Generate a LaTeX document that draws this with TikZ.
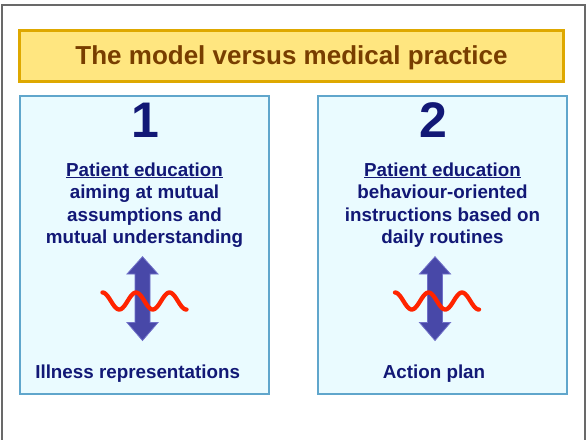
\documentclass[tikz,border=0pt]{standalone}
\usepackage{fontspec}
\setmainfont{Liberation Sans}
\definecolor{navy}{RGB}{18,24,118}
\definecolor{titlebrown}{RGB}{120,62,0}
\definecolor{titlefill}{RGB}{255,230,128}
\definecolor{titleedge}{RGB}{222,168,0}
\definecolor{boxfill}{RGB}{234,251,255}
\definecolor{boxedge}{RGB}{96,166,204}
\definecolor{arrowfill}{RGB}{72,72,168}
\definecolor{arrowedge}{RGB}{112,112,200}
\definecolor{wavered}{RGB}{255,36,0}
\definecolor{framegray}{RGB}{105,105,105}
\tikzset{
  panel/.style={draw=boxedge, fill=boxfill, line width=1.5pt, minimum width=249pt, minimum height=298pt, inner sep=0pt},
  titlebox/.style={draw=titleedge, fill=titlefill, line width=2.2pt, minimum width=544pt, minimum height=51pt, inner sep=0pt},
  titletext/.style={text=titlebrown, font=\fontsize{26}{30}\selectfont\bfseries, anchor=base, inner sep=0pt},
  bignum/.style={text=navy, font=\fontsize{50}{56}\selectfont\bfseries, anchor=base, inner sep=0pt},
  bodytext/.style={text=navy, font=\fontsize{18.8}{22.5}\selectfont\bfseries, anchor=base, align=center, inner sep=0pt},
  dblarrow/.style={fill=arrowfill, draw=arrowedge, line width=0.8pt, line join=miter},
  wave/.style={draw=wavered, line width=4.3pt, line cap=round}
}
\newcommand{\myupdownarrow}[1]{%
  \draw[dblarrow] (#1,256.7) -- (#1+15.5,274) -- (#1+7.5,274) -- (#1+7.5,322.5) -- (#1+15.5,322.5) -- (#1,340.5) -- (#1-15.5,322.5) -- (#1-7.5,322.5) -- (#1-7.5,274) -- (#1-15.5,274) -- cycle;
  \draw[wave] plot[domain=-40:44, samples=80, smooth] ({#1+\x}, {301-8.5*cos(10.746*(\x+40))});
}
\begin{document}
\begin{tikzpicture}[x=1pt, y=-1pt]
  \useasboundingbox (0,0) rectangle (586,439);
  \fill[white] (0,0) rectangle (586,439);
  \draw[framegray, line width=2pt] (2,440) -- (2,5) -- (584.5,5) -- (584.5,440);
  \node[titlebox] (title) at (291.5,56) {};
  \node[titletext] (titlelabel) at (291.5,64.3) {The model versus medical practice};
  \node[panel] (left) at (144.5,245) {};
  \node[panel] (right) at (442.5,245) {};
  \node[bignum] (one) at (145,137.5) {1};
  \node[bignum] (two) at (433.5,137) {2};
  \node[bodytext] (lefttext) at (144.5,243.5) {\underline{Patient education}\\aiming at mutual\\assumptions and\\mutual understanding};
  \node[bodytext] (righttext) at (442.5,243.5) {\underline{Patient education}\\behaviour-oriented\\instructions based on\\daily routines};
  \myupdownarrow{142.5}
  \myupdownarrow{435}
  \node[bodytext] (illness) at (137.7,378) {Illness representations};
  \node[bodytext] (action) at (434,378) {Action plan};
\end{tikzpicture}
\end{document}
